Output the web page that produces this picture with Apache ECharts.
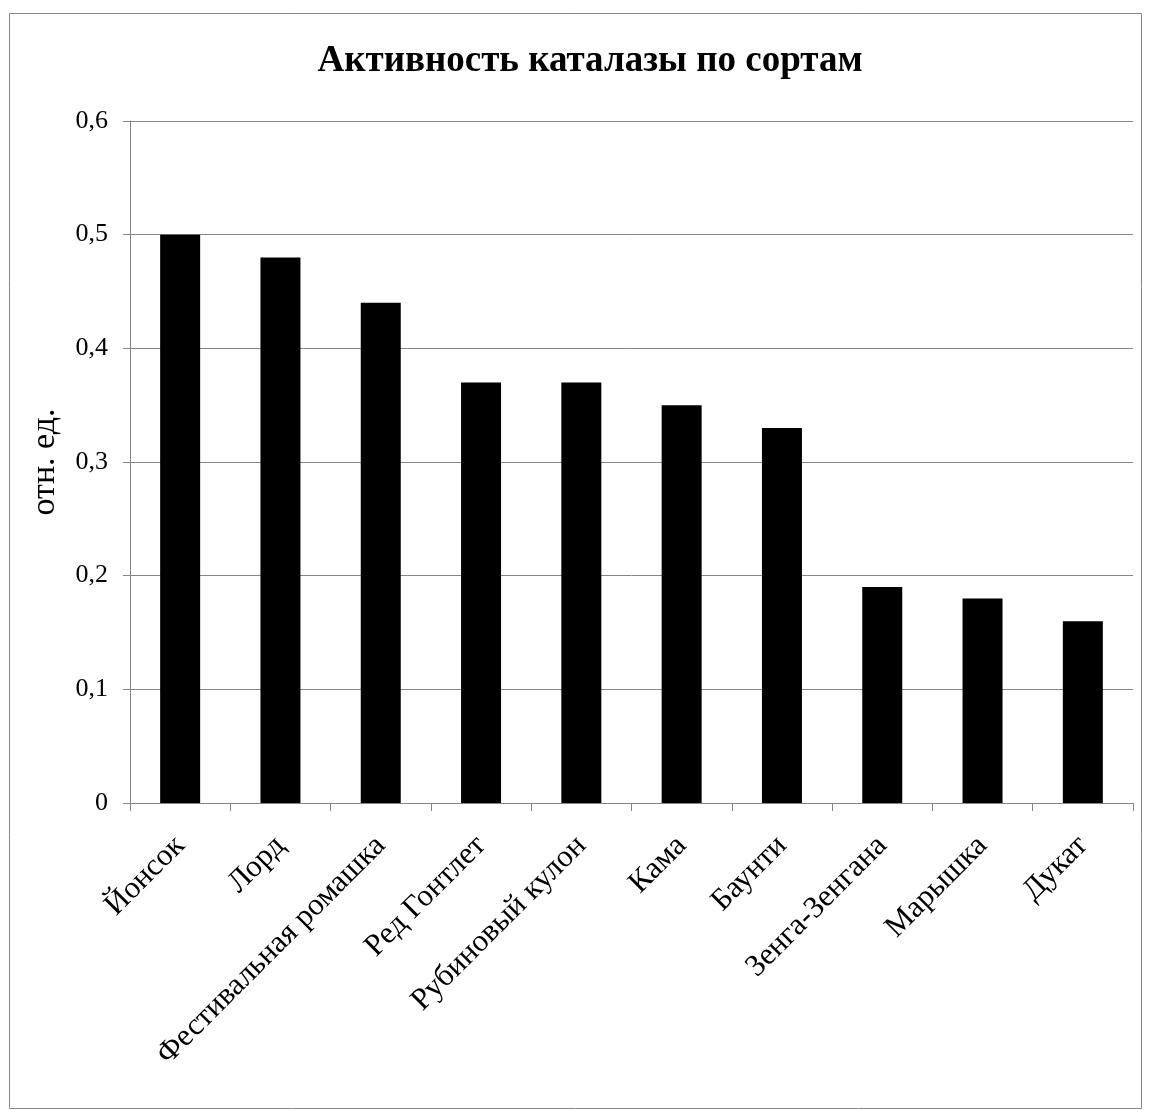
<!DOCTYPE html>
<html>
<head>
<meta charset="utf-8">
<script src="https://cdn.jsdelivr.net/npm/echarts@6/dist/echarts.min.js"></script>
<style>
html,body{margin:0;padding:0;background:#fff;}
#chart{width:1150px;height:1120px;}
</style>
</head>
<body>
<div id="chart"></div>
<script>
const categories = ["Йонсок","Лорд","Фестивальная ромашка","Ред Гонтлет","Рубиновый кулон","Кама","Баунти","Зенга-Зенгана","Марышка","Дукат"];
const values = [0.50,0.48,0.44,0.37,0.37,0.35,0.33,0.19,0.18,0.16];
const titleText = "Активность каталазы по сортам";
const yName = "отн. ед.";

const FONT = '"Liberation Serif","Times New Roman",serif';
const chart = echarts.init(document.getElementById('chart'), null, {renderer:'canvas'});
chart.setOption({
  backgroundColor:'#ffffff',
  animation:false,
  title:{
    text:titleText,
    left:585, top:38, textAlign:'center',
    textStyle:{fontFamily:FONT, fontSize:37, fontWeight:'bold', color:'#000'}
  },
  graphic:[{
    type:'rect', shape:{x:9.5,y:13.5,width:1132,height:1095},
    style:{fill:'none', stroke:'#888888', lineWidth:1}, silent:true
  }],
  grid:{left:130, right:17, top:121, bottom:317, containLabel:false},
  xAxis:{
    type:'category', data:categories,
    axisLine:{lineStyle:{color:'#868686', width:1}},
    axisTick:{show:true, length:8, lineStyle:{color:'#868686'}},
    axisLabel:{rotate:45, fontFamily:FONT, fontSize:31, color:'#000', margin:38, interval:0}
  },
  yAxis:{
    type:'value', min:0, max:0.6, interval:0.1,
    name:yName, nameLocation:'middle', nameRotate:90, nameGap:68,
    nameTextStyle:{fontFamily:FONT, fontSize:34, color:'#000'},
    axisLine:{show:true, lineStyle:{color:'#868686', width:1}},
    axisTick:{show:true, length:7, lineStyle:{color:'#868686'}},
    splitLine:{lineStyle:{color:'#868686', width:1}},
    axisLabel:{fontFamily:FONT, fontSize:26, color:'#000', margin:22,
      formatter:v => v === 0 ? '0' : v.toFixed(1).replace('.', ',')}
  },
  series:[{
    type:'bar', data:values, barWidth:40,
    itemStyle:{color:'#000'}
  }]
});
</script>
</body>
</html>
